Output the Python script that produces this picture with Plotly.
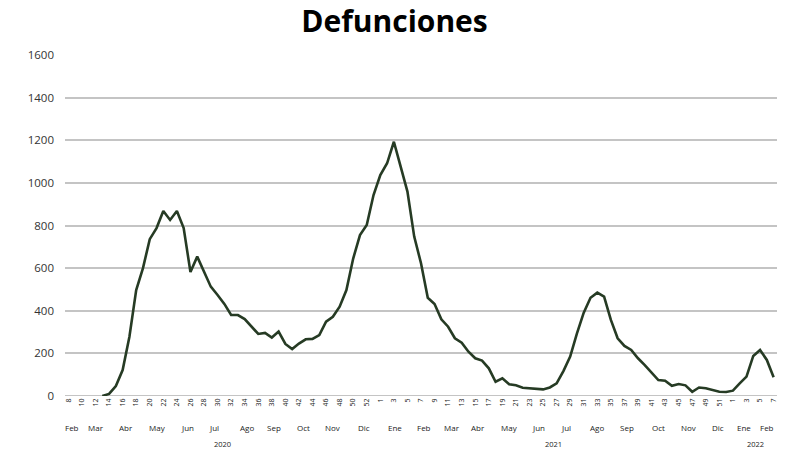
import plotly.graph_objects as go

# Epidemiological weeks
weeks_2020 = list(range(8, 54))
weeks_2021 = list(range(1, 53))
weeks_2022 = list(range(1, 8))

deaths_2020 = [None, None, None, None, None, 0, 10, 47, 122, 278, 497, 600, 736, 788,
               868, 826, 868, 788, 582, 654, 580, 513, 474, 432, 380, 380, 361, 325,
               291, 296, 274, 302, 244, 220, 246, 266, 268, 286, 349, 372, 419, 497,
               645, 755, 802, 943]
deaths_2021 = [1037, 1092, 1193, 1076, 959, 748, 623, 461, 432, 360, 325, 271, 250,
               208, 177, 166, 130, 67, 83, 55, 50, 39, 36, 31, 31, 40, 59, 117, 185,
               294, 391, 461, 485, 466, 357, 271, 235, 216, 177, 145, 111, 75, 72, 48,
               56, 50, 20, 40, 36, 28, 20, 19]
deaths_2022 = [25, 59, 91, 188, 216, 169, 88]

month_labels = ["Feb", "Mar", "Abr", "May", "Jun", "Jul", "Ago", "Sep", "Oct", "Nov", "Dic",
                "Ene", "Feb", "Mar", "Abr", "May", "Jun", "Jul", "Ago", "Sep", "Oct", "Nov", "Dic",
                "Ene", "Feb"]
month_pos = [0.5, 4.1, 8.5, 13.1, 17.6, 21.5, 26.3, 30.3, 34.6, 38.9, 43.6,
             48.2, 52.4, 56.6, 60.4, 65.0, 69.3, 73.4, 78.0, 82.4, 87.0, 91.4, 95.8,
             99.6, 103.0]
year_labels = ["2020", "2021", "2022"]
year_pos = [22.7, 71.5, 101.3]

weeks = weeks_2020 + weeks_2021 + weeks_2022
values = deaths_2020 + deaths_2021 + deaths_2022
idx = list(range(len(weeks)))

fig = go.Figure()
fig.add_trace(go.Scatter(x=idx, y=values, mode="lines",
                         line=dict(color="#263b24", width=2.6), connectgaps=False,
                         hoverinfo="y"))

tickvals = idx[::2]
ticktext = [str(weeks[i]) for i in tickvals]

font_family = "Open Sans, Lato, sans-serif"

annotations = []
for lab, p in zip(month_labels, month_pos):
    annotations.append(dict(x=p, y=-0.091, xref="x", yref="paper", text=lab,
                            showarrow=False, font=dict(size=8, color="#222", family=font_family),
                            xanchor="center", yanchor="middle"))
for lab, p in zip(year_labels, year_pos):
    annotations.append(dict(x=p, y=-0.141, xref="x", yref="paper", text=lab,
                            showarrow=False, font=dict(size=7.5, color="#222", family=font_family),
                            xanchor="center", yanchor="middle"))

fig.update_layout(
    width=789, height=451,
    margin=dict(l=65, r=12, t=55, b=55),
    paper_bgcolor="white", plot_bgcolor="white",
    title=dict(text="<b>Defunciones</b>", x=0.5, xanchor="center", y=0.953, yanchor="middle",
               font=dict(size=30, color="#000", family=font_family)),
    showlegend=False,
    xaxis=dict(range=[-0.5, 104.5], tickmode="array", tickvals=tickvals, ticktext=ticktext,
               tickangle=-90, tickfont=dict(size=7, color="#222", family=font_family),
               showgrid=False, zeroline=False, showline=False, ticks="", ticklen=2),
    yaxis=dict(range=[0, 1600], dtick=200, showgrid=True, gridcolor="#c4c4c4", gridwidth=1.5,
               zeroline=False, showline=False, ticks="", ticklabelstandoff=10,
               tickfont=dict(size=11.5, color="#333", family=font_family)),
    annotations=annotations,
)
fig.add_shape(type="line", xref="paper", yref="y", x0=0, x1=1, y0=0, y1=0,
              line=dict(color="#c4c4c4", width=2), layer="below")

fig.write_html("out.html", config={"displayModeBar": False},
               post_script="document.body.style.margin='0';document.body.style.padding='0';")
